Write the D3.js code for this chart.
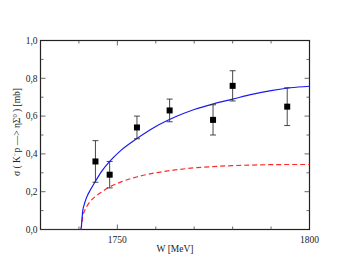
<!DOCTYPE html>
<html lang="en">
<head>
<meta charset="UTF-8">
<title>K-p -> eta Sigma0</title>
<script src="https://cdn.jsdelivr.net/npm/d3@7"></script>
<style>
    body { margin: 0; background: #fff; }
    text { font-family: "Liberation Serif", "DejaVu Serif", serif; font-size: 9.5px; fill: #222; }
    .axis path, .axis line { stroke: #222; }
</style>
</head>
<body>
<svg id="chart" width="349" height="270"></svg>
<script>
    // measured points
    let expW   = [1744.3, 1748.0, 1755.1, 1763.6, 1774.9, 1780.0, 1794.2];
    let expSig = [0.36, 0.29, 0.54, 0.63, 0.58, 0.76, 0.65];
    let expErr = [0.11, 0.07, 0.06, 0.06, 0.08, 0.08, 0.10];

    // model curves (full = blue, dashed = red)
    let curveW    = [1730, 1740.5, 1741, 1741.5, 1742, 1743, 1744.3, 1746, 1748, 1751, 1755, 1760, 1765, 1770, 1775, 1780, 1785, 1790, 1795, 1800];
    let fullSig   = [0, 0, 0.10, 0.14, 0.17, 0.21, 0.255, 0.31, 0.36, 0.42, 0.48, 0.545, 0.595, 0.635, 0.665, 0.69, 0.715, 0.735, 0.75, 0.758];
    let dashedSig = [0, 0, 0.07, 0.10, 0.12, 0.15, 0.175, 0.20, 0.225, 0.252, 0.278, 0.30, 0.315, 0.326, 0.333, 0.338, 0.341, 0.343, 0.344, 0.344];

    let xTickLabels = [1750, 1800];
    let yTickLabels = [0, 0.2, 0.4, 0.6, 0.8, 1.0];

    let svg = d3.select('svg#chart');
    let box = {left: 40.5, right: 309.5, top: 40.5, bottom: 229.5};

    let xScale = d3.scaleLinear().domain([1730, 1800]).range([box.left, box.right]);
    let yScale = d3.scaleLinear().domain([0, 1]).range([box.bottom, box.top]);

    let fmt = d => d3.format('.1f')(d).replace('.', ',');

    // frame
    svg.append('rect')
        .attr('x', box.left).attr('y', box.top)
        .attr('width', box.right - box.left).attr('height', box.bottom - box.top)
        .attr('fill', 'none').attr('stroke', '#222').attr('stroke-width', 1.2);

    // ticks pointing inward on all four sides
    let xMinor = d3.range(1740, 1800, 10);
    let yMinor = d3.range(0.1, 1.0, 0.1);
    let ticks = svg.append('g').attr('stroke', '#444').attr('stroke-width', 0.8);
    xMinor.forEach(function (w) {
        let len = (w % 50 === 0) ? 5 : 3;
        ticks.append('line').attr('x1', xScale(w)).attr('x2', xScale(w))
            .attr('y1', box.bottom).attr('y2', box.bottom - len);
        ticks.append('line').attr('x1', xScale(w)).attr('x2', xScale(w))
            .attr('y1', box.top).attr('y2', box.top + len);
    });
    yMinor.forEach(function (s, i) {
        let len = (i % 2 === 1) ? 5 : 3;
        ticks.append('line').attr('y1', yScale(s)).attr('y2', yScale(s))
            .attr('x1', box.left).attr('x2', box.left + len);
        ticks.append('line').attr('y1', yScale(s)).attr('y2', yScale(s))
            .attr('x1', box.right).attr('x2', box.right - len);
    });

    // tick labels
    svg.selectAll('text.xlab').data(xTickLabels).enter().append('text')
        .attr('class', 'xlab')
        .attr('x', d => xScale(d)).attr('y', box.bottom + 13)
        .attr('text-anchor', 'middle').text(d => d);
    svg.selectAll('text.ylab').data(yTickLabels).enter().append('text')
        .attr('class', 'ylab')
        .attr('x', box.left - 3).attr('y', d => yScale(d) + 3.3)
        .attr('text-anchor', 'end').text(fmt);

    // axis titles
    svg.append('text').attr('x', 175).attr('y', 252)
        .attr('text-anchor', 'middle').text('W  [MeV]');
    let yt = svg.append('text')
        .attr('transform', 'translate(20,132) rotate(-90)')
        .attr('text-anchor', 'middle');
    yt.append('tspan').text('σ ( K');
    yt.append('tspan').attr('dy', -3.5).attr('font-size', '6.5px').text('−');
    yt.append('tspan').attr('dy', 3.5).text('p —> ηΣ');
    yt.append('tspan').attr('dy', -3.5).attr('font-size', '6.5px').text('0');
    yt.append('tspan').attr('dy', 3.5).text(' ) [mb]');

    // curves
    let line = d3.line().x(d => xScale(d[0])).y(d => yScale(d[1])).curve(d3.curveMonotoneX);
    svg.append('path')
        .datum(curveW.map((w, i) => [w, dashedSig[i]]))
        .attr('d', line).attr('fill', 'none')
        .attr('stroke', '#ff2a2a').attr('stroke-width', 1.2)
        .attr('stroke-dasharray', '5,3');
    svg.append('path')
        .datum(curveW.map((w, i) => [w, fullSig[i]]))
        .attr('d', line).attr('fill', 'none')
        .attr('stroke', '#1a1aee').attr('stroke-width', 1.2);

    // error bars
    let eb = svg.append('g').attr('stroke', '#333').attr('stroke-width', 0.9);
    expW.forEach(function (w, i) {
        let x = xScale(w), y0 = yScale(expSig[i] - expErr[i]), y1 = yScale(expSig[i] + expErr[i]);
        eb.append('line').attr('x1', x).attr('x2', x).attr('y1', y0).attr('y2', y1);
        eb.append('line').attr('x1', x - 3).attr('x2', x + 3).attr('y1', y0).attr('y2', y0);
        eb.append('line').attr('x1', x - 3).attr('x2', x + 3).attr('y1', y1).attr('y2', y1);
    });

    // markers
    svg.selectAll('rect.pt').data(expW).enter().append('rect')
        .attr('class', 'pt')
        .attr('x', d => xScale(d) - 3).attr('y', (d, i) => yScale(expSig[i]) - 3)
        .attr('width', 6).attr('height', 6).attr('fill', '#000');
</script>
</body>
</html>
